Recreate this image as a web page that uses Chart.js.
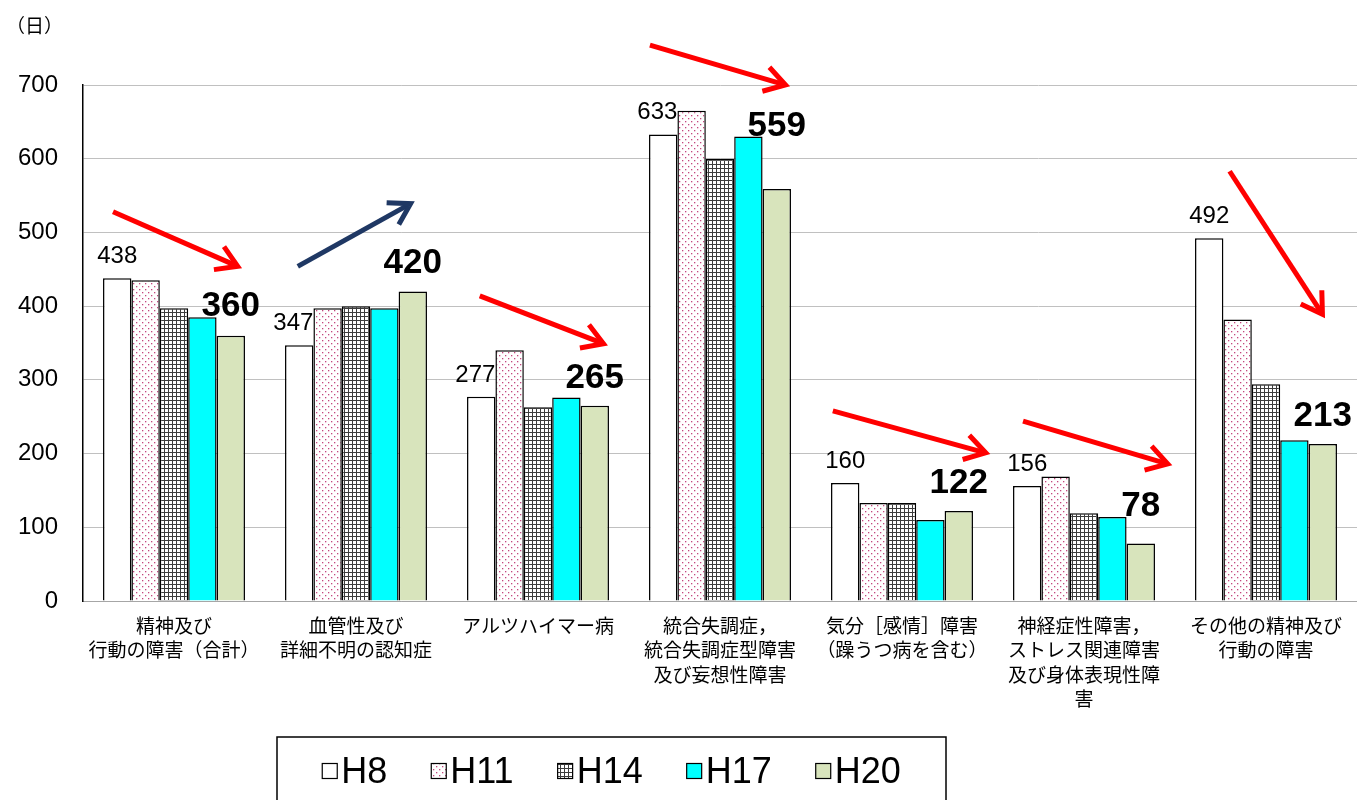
<!DOCTYPE html>
<html lang="ja">
<head>
<meta charset="utf-8">
<title>平均在院日数の推移</title>
<script src="https://cdn.jsdelivr.net/npm/chart.js@4.4.1/dist/chart.umd.min.js"></script>
<style>
  html, body { margin: 0; padding: 0; background: #fff; }
  #chart { display: block; }
</style>
</head>
<body>
<canvas id="chart" width="1357" height="800"></canvas>
<script>
'use strict';
/* ------------------------------------------------------------------DATA */
const categoryLabels = [
  ['精神及び', '行動の障害（合計）'],
  ['血管性及び', '詳細不明の認知症'],
  ['アルツハイマー病'],
  ['統合失調症，', '統合失調症型障害', '及び妄想性障害'],
  ['気分［感情］障害', '（躁うつ病を含む）'],
  ['神経症性障害，', 'ストレス関連障害', '及び身体表現性障', '害'],
  ['その他の精神及び', '行動の障害']
];
//category labels, one array of lines per group

const seriesNames = ['H8', 'H11', 'H14', 'H17', 'H20'];
const h8Values = [438, 347, 277, 633, 160, 156, 492];
const h11Values = [435, 397, 340, 665, 133, 169, 382];
const h14Values = [397, 400, 263, 600, 133, 119, 294];
const h17Values = [385, 397, 276, 630, 110, 114, 218];
const h20Values = [360, 420, 265, 559, 122, 78, 213];
//average days per survey year

const yTickValues = [0, 100, 200, 300, 400, 500, 600, 700];
const unitLabel = '（日）';

const arrowFromValues = [528, 454, 414, 754, 258, 244, 583];
const arrowToValues = [454, 539, 349, 700, 201, 186, 389];
const arrowFromOffsets = [-0.335, -0.32, -0.32, -0.385, -0.38, -0.335, -0.2];
const arrowToOffsets = [0.35, 0.30, 0.36, 0.36, 0.46, 0.46, 0.31];
const arrowColors = ['#ff0000', '#1f3864', '#ff0000', '#ff0000', '#ff0000', '#ff0000', '#ff0000'];
//trend arrows: value at tail and head, position inside the category (fraction of its width)


/* ------------------------------------------------------------------PATTERNS */
function makeDotPattern(){
  const tile = document.createElement('canvas');
  tile.width = 6;
  tile.height = 6;
  const t = tile.getContext('2d');
  t.fillStyle = '#ffffff';
  t.fillRect(0, 0, 6, 6);
  t.fillStyle = '#c4487e';
  t.fillRect(1, 1, 1.3, 1.3);
  t.fillRect(4, 4, 1.3, 1.3);
  return t.createPattern(tile, 'repeat');
}
//white with small crimson dots, staggered rows

function makeGridPattern(){
  const tile = document.createElement('canvas');
  tile.width = 4;
  tile.height = 4;
  const t = tile.getContext('2d');
  t.fillStyle = '#ffffff';
  t.fillRect(0, 0, 4, 4);
  t.fillStyle = '#3c3c3c';
  t.fillRect(0, 0, 4, 1);
  t.fillRect(0, 0, 1, 4);
  return t.createPattern(tile, 'repeat');
}
//fine dark grid on white

const seriesFills = ['#ffffff', makeDotPattern(), makeGridPattern(), '#00ffff', '#d8e4bc'];
const seriesValues = [h8Values, h11Values, h14Values, h17Values, h20Values];


/* ------------------------------------------------------------------PLUGINS */
const numberFont = '"Liberation Sans", Arial, sans-serif';
const jpFont = '"Noto Sans CJK JP", "Noto Sans", sans-serif';

const valueLabelPlugin = {
  id: 'valueLabels',
  afterDatasetsDraw(chart){
    const ctx = chart.ctx;
    const firstBars = chart.getDatasetMeta(0).data;
    const secondBars = chart.getDatasetMeta(1).data;
    const fourthBars = chart.getDatasetMeta(3).data;
    const lastBars = chart.getDatasetMeta(4).data;
    ctx.save();
    ctx.fillStyle = '#000000';
    ctx.textBaseline = 'alphabetic';

    ctx.font = '24px ' + numberFont;
    firstBars.forEach((bar, i) => {
      const text = String(h8Values[i]);
      const w = ctx.measureText(text).width;
      const baseline = bar.y - 15;
      const next = secondBars[i];
      const hitsNext = next.y < baseline && bar.x + w / 2 > next.x - next.width / 2;
      if (hitsNext){
        ctx.textAlign = 'right';
        ctx.fillText(text, bar.x + bar.width / 2, baseline);
      } else {
        ctx.textAlign = 'center';
        ctx.fillText(text, bar.x, baseline);
      }
    });
    //first year value, moved left when the next bar is in the way

    ctx.font = 'bold 35px ' + numberFont;
    ctx.textAlign = 'center';
    lastBars.forEach((bar, i) => {
      const baseline = Math.min(bar.y - 18, fourthBars[i].y - 1);
      ctx.fillText(String(h20Values[i]), bar.x, baseline);
    });
    //latest year value in large bold type
    ctx.restore();
  }
};

function drawArrow(ctx, x0, y0, x1, y1, color){
  const angle = Math.atan2(y1 - y0, x1 - x0);
  const head = 24;
  const spread = 0.55;
  ctx.strokeStyle = color;
  ctx.lineWidth = 5;
  ctx.lineCap = 'butt';
  ctx.lineJoin = 'miter';
  ctx.beginPath();
  ctx.moveTo(x0, y0);
  ctx.lineTo(x1 - 3 * Math.cos(angle), y1 - 3 * Math.sin(angle));
  ctx.stroke();
  ctx.beginPath();
  ctx.moveTo(x1 - head * Math.cos(angle - spread), y1 - head * Math.sin(angle - spread));
  ctx.lineTo(x1, y1);
  ctx.lineTo(x1 - head * Math.cos(angle + spread), y1 - head * Math.sin(angle + spread));
  ctx.stroke();
}

const arrowPlugin = {
  id: 'trendArrows',
  afterDatasetsDraw(chart){
    const ctx = chart.ctx;
    const xScale = chart.scales.x;
    const yScale = chart.scales.y;
    ctx.save();
    for (let i = 0; i < categoryLabels.length; i++){
      drawArrow(ctx,
        xScale.getPixelForValue(i + arrowFromOffsets[i]), yScale.getPixelForValue(arrowFromValues[i]),
        xScale.getPixelForValue(i + arrowToOffsets[i]), yScale.getPixelForValue(arrowToValues[i]),
        arrowColors[i]);
    }
    ctx.restore();
  }
};

const legendBoxPlugin = {
  id: 'legendBox',
  afterDraw(chart){
    const ctx = chart.ctx;
    const boxLeft = 277;
    const boxTop = 737;
    const boxWidth = 669;
    const swatch = 15;
    const swatchGap = 4;
    const itemGap = 44;
    ctx.save();
    ctx.strokeStyle = '#000000';
    ctx.lineWidth = 1.5;
    ctx.strokeRect(boxLeft, boxTop, boxWidth, 100);

    ctx.font = '36px ' + numberFont;
    const widths = seriesNames.map(name => ctx.measureText(name).width);
    let total = 0;
    widths.forEach(w => { total += swatch + swatchGap + w; });
    total += itemGap * (seriesNames.length - 1);
    let x = boxLeft + (boxWidth - total) / 2;
    const midY = 771;
    ctx.textBaseline = 'middle';
    ctx.textAlign = 'left';
    seriesNames.forEach((name, i) => {
      ctx.fillStyle = seriesFills[i];
      ctx.fillRect(x, midY - swatch / 2, swatch, swatch);
      ctx.lineWidth = 1.2;
      ctx.strokeRect(x, midY - swatch / 2, swatch, swatch);
      ctx.fillStyle = '#000000';
      ctx.fillText(name, x + swatch + swatchGap, midY + 2);
      x += swatch + swatchGap + widths[i] + itemGap;
    });
    //legend items centred in the box

    ctx.font = '19px ' + jpFont;
    ctx.textBaseline = 'middle';
    ctx.fillText(unitLabel, 6, 26);
    //unit of the value axis
    ctx.restore();
  }
};


/* ------------------------------------------------------------------CHART */
const datasets = seriesNames.map((name, i) => ({
  label: name,
  data: seriesValues[i],
  backgroundColor: seriesFills[i],
  borderColor: '#000000',
  borderWidth: 1.5,
  categoryPercentage: 0.78,
  barPercentage: 1.0
}));

new Chart(document.getElementById('chart').getContext('2d'), {
  type: 'bar',
  data: {
    labels: categoryLabels,
    datasets: datasets
  },
  options: {
    responsive: false,
    animation: false,
    devicePixelRatio: 1,
    layout: { padding: { top: 85, right: 0, bottom: 0, left: 0 } },
    plugins: {
      legend: { display: false },
      tooltip: { enabled: false }
    },
    scales: {
      x: {
        grid: { display: false, drawTicks: false },
        border: { color: '#a6a6a6', width: 1 },
        ticks: {
          color: '#000000',
          font: { family: jpFont, size: 19, lineHeight: 1.27 },
          padding: 13,
          maxRotation: 0,
          autoSkip: false
        },
        afterFit(scale){ scale.height = 199; }
      },
      y: {
        min: 0,
        max: 700,
        afterBuildTicks(scale){ scale.ticks = yTickValues.map(v => ({ value: v })); },
        grid: { color: '#c0c0c0', lineWidth: 1, drawTicks: false },
        border: { color: '#000000', width: 1.5 },
        ticks: {
          color: '#000000',
          font: { family: numberFont, size: 24 },
          padding: 25
        },
        afterFit(scale){ scale.width = 83; }
      }
    }
  },
  plugins: [valueLabelPlugin, arrowPlugin, legendBoxPlugin]
});
</script>
</body>
</html>
